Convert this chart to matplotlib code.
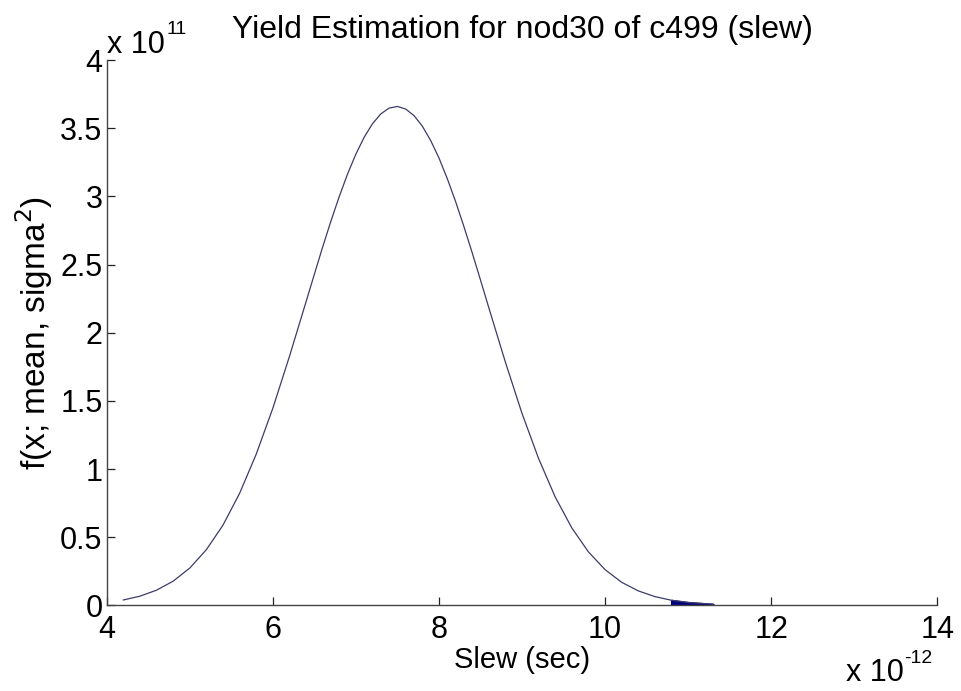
import matplotlib
matplotlib.use("Agg")
import matplotlib.pyplot as plt

plt.rcParams['font.family'] = ['Liberation Sans', 'DejaVu Sans']

# slew in units of 1e-12 s, density in units of 1e11
slew = [4.2, 4.4, 4.6, 4.8, 5.0, 5.2, 5.4, 5.6, 5.8, 6.0,
        6.2, 6.4, 6.5, 6.6, 6.7, 6.8, 6.9, 7.0, 7.1, 7.2,
        7.3, 7.4, 7.5, 7.6, 7.7, 7.8, 7.9, 8.0, 8.1, 8.2,
        8.3, 8.4, 8.5, 8.6, 8.8, 9.0, 9.2, 9.4, 9.6, 9.8,
        10.0, 10.2, 10.4, 10.6, 10.8, 11.0, 11.3]
density = [0.039, 0.067, 0.111, 0.177, 0.273, 0.408, 0.588, 0.821, 1.108, 1.445,
           1.825, 2.226, 2.428, 2.628, 2.819, 2.999, 3.164, 3.310, 3.434, 3.533,
           3.605, 3.648, 3.660, 3.641, 3.593, 3.516, 3.411, 3.283, 3.132, 2.964,
           2.781, 2.588, 2.388, 2.185, 1.785, 1.409, 1.077, 0.795, 0.568, 0.392,
           0.262, 0.169, 0.106, 0.064, 0.037, 0.021, 0.008]

# failing tail region (shaded)
tail_start = 10.8

xticks = [4, 6, 8, 10, 12, 14]
yticks = [0, 0.5, 1, 1.5, 2, 2.5, 3, 3.5, 4]
yticklabels = ['0', '0.5', '1', '1.5', '2', '2.5', '3', '3.5', '4']

fig = plt.figure(figsize=(9.61, 6.91), dpi=100)
ax = fig.add_axes([0.111, 0.124, 0.8643, 0.789])

ax.plot(slew, density, color='#3c3c6a', linewidth=0.9)

tail_x = [x for x in slew if x >= tail_start]
tail_y = [y for x, y in zip(slew, density) if x >= tail_start]
ax.fill_between(tail_x, 0, tail_y, color='#000080', linewidth=1.5, edgecolor='#000080')

ax.set_xlim(4, 14)
ax.set_ylim(0, 4)
ax.set_xticks(xticks)
ax.set_yticks(yticks)
ax.set_yticklabels(yticklabels)

for s in ['top', 'right']:
    ax.spines[s].set_visible(False)
for s in ['left', 'bottom']:
    ax.spines[s].set_color('#444444')
    ax.spines[s].set_linewidth(1.0)

ax.tick_params(direction='in', length=6, width=0.9, colors='#222222',
               labelsize=22, labelcolor='black')
ax.tick_params(axis='x', pad=7)
ax.tick_params(axis='y', pad=3)

ax.set_title('Yield Estimation for nod30 of c499 (slew)', fontsize=23, pad=16)
ax.set_xlabel('Slew (sec)', fontsize=21, labelpad=1)
ax.set_ylabel(r'f(x; mean, sigma$^2$)', fontsize=24, labelpad=4)

# exponent labels, MATLAB style
fig.text(107 / 961, 1 - 53 / 691, 'x 10', fontsize=22, ha='left', va='baseline')
fig.text(166 / 961, 1 - 34 / 691, '11', fontsize=14, ha='left', va='baseline')
fig.text(846 / 961, 1 - 681 / 691, 'x 10', fontsize=22, ha='left', va='baseline')
fig.text(904 / 961, 1 - 663 / 691, '-12', fontsize=14, ha='left', va='baseline')

fig.savefig('out.png', dpi=100)
